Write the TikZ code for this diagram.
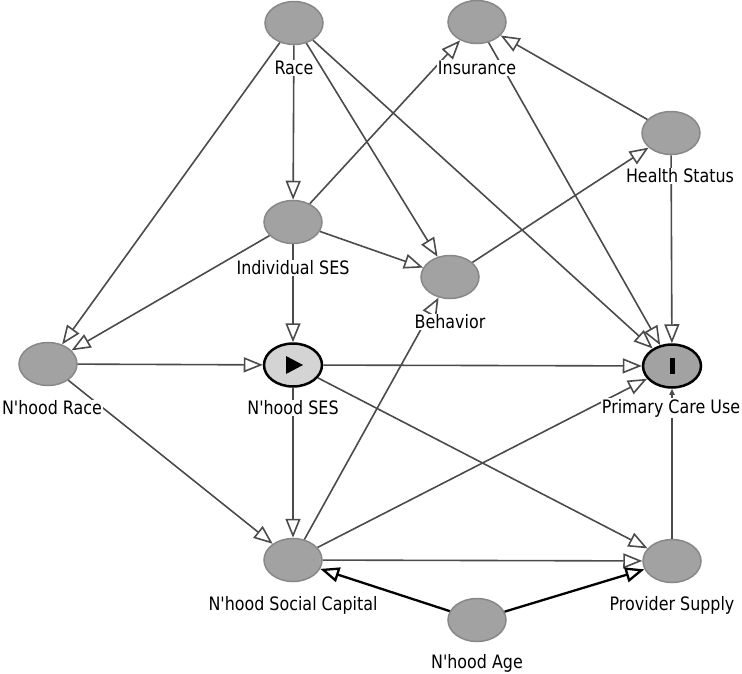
\documentclass[tikz,border=0pt]{standalone}
\usepackage{fontspec}
\setmainfont{DejaVu Sans}[FakeStretch=0.86, Ligatures=TeXOff]
\usepackage{tikz}
\usetikzlibrary{shapes.geometric,arrows.meta}
\definecolor{nodegray}{RGB}{162,162,162}
\definecolor{rimgray}{RGB}{136,136,136}
\definecolor{edgegray}{RGB}{75,75,75}
\definecolor{expfill}{RGB}{212,212,212}

\begin{document}
\begin{tikzpicture}[x=1pt, y=-1pt,
    var/.style={ellipse, draw=rimgray, line width=1.5pt, fill=nodegray, minimum width=58pt, minimum height=43pt, inner sep=0pt},
    exposure/.style={var, draw=black, line width=2.5pt, fill=expfill},
    outcome/.style={var, draw=black, line width=2.5pt},
    lbl/.style={fill=white, inner sep=1pt, font=\fontsize{18.5}{20}\selectfont},
    edge/.style={draw=edgegray, line width=1.6pt, -{Triangle[open, length=19pt, width=15pt]}},
    strong/.style={edge, draw=black, line width=2.3pt},
    plain/.style={draw=edgegray, line width=1.6pt, -{Triangle[length=6pt, width=5pt]}}]
    \useasboundingbox (0,0) rectangle (742,673);

    % Variables
    \node[var] (race) at (294, 23) {};
    \node[var] (ins) at (477, 22) {};
    \node[var] (hs) at (671, 133) {};
    \node[var] (ises) at (293, 222) {};
    \node[var] (beh) at (450, 277) {};
    \node[var] (nrace) at (48, 364) {};
    \node[exposure] (nses) at (293, 365) {};
    \node[outcome] (pcu) at (672, 366) {};
    \node[var] (nsc) at (293, 560) {};
    \node[var] (ps) at (672, 561) {};
    \node[var] (nage) at (477, 620) {};

    % Exposure and outcome marks
    \fill ([xshift=-7pt, yshift=9pt]nses.center) -- ([xshift=10pt]nses.center) -- ([xshift=-7pt, yshift=-9pt]nses.center) -- cycle;
    \fill ([xshift=-2.5pt, yshift=-8pt]pcu.center) rectangle ([xshift=2.5pt, yshift=8pt]pcu.center);

    % Arrows
    \draw[edge] (race) -- (ises);
    \draw[edge] (race) -- (nrace);
    \draw[edge] (race) -- (beh);
    \draw[edge] (race) -- (pcu);
    \draw[edge] (ins) -- (pcu);
    \draw[edge] (hs) -- (ins);
    \draw[edge] (hs) -- (pcu);
    \draw[edge] (ises) -- (ins);
    \draw[edge] (ises) -- (beh);
    \draw[edge] (ises) -- (nrace);
    \draw[edge] (ises) -- (nses);
    \draw[edge] (beh) -- (hs);
    \draw[edge] (nrace) -- (nses);
    \draw[edge] (nrace) -- (nsc);
    \draw[edge] (nses) -- (pcu);
    \draw[edge] (nses) -- (ps);
    \draw[edge] (nses) -- (nsc);
    \draw[edge] (nsc) -- (beh);
    \draw[edge] (nsc) -- (pcu);
    \draw[edge] (nsc) -- (ps);
    \draw[plain] (ps) -- (pcu);
    \draw[strong] (nage) -- (nsc);
    \draw[strong] (nage) -- (ps);

    % Labels
    \node[lbl] (race-l) at ([yshift=-45pt]race.center) {Race};
    \node[lbl] (ins-l) at ([yshift=-46pt]ins.center) {Insurance};
    \node[lbl] (hs-l) at ([xshift=9pt, yshift=-43pt]hs.center) {Health Status};
    \node[lbl] (ises-l) at ([yshift=-46pt]ises.center) {Individual SES};
    \node[lbl] (beh-l) at ([yshift=-45pt]beh.center) {Behavior};
    \node[lbl] (nrace-l) at ([xshift=4pt, yshift=-44pt]nrace.center) {N'hood Race};
    \node[lbl] (nses-l) at ([yshift=-43pt]nses.center) {N'hood SES};
    \node[lbl] (pcu-l) at ([xshift=-1pt, yshift=-42pt]pcu.center) {Primary Care Use};
    \node[lbl] (nsc-l) at ([yshift=-45pt]nsc.center) {N'hood Social Capital};
    \node[lbl] (ps-l) at ([yshift=-44pt]ps.center) {Provider Supply};
    \node[lbl] (nage-l) at ([yshift=-43pt]nage.center) {N'hood Age};
\end{tikzpicture}
\end{document}
